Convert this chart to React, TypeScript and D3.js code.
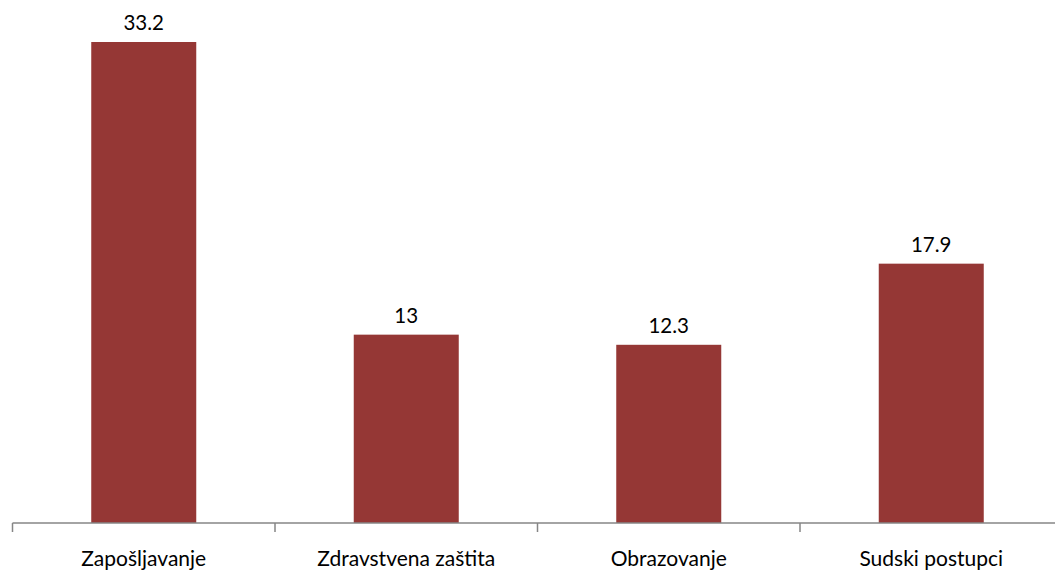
import React from "react";
import * as d3 from "d3";

const categories = ["Zapošljavanje", "Zdravstvena zaštita", "Obrazovanje", "Sudski postupci"];
const values = [33.2, 13, 12.3, 17.9];

const W = 1055;
const H = 572;
const x0 = 12.5;
const x1 = 1062.5;
const baseY = 523;

export default function App() {
  const x = d3.scaleBand<string>().domain(categories).range([x0, x1]).paddingInner(0.6).paddingOuter(0.3);
  const band = d3.scaleBand<string>().domain(categories).range([x0, x1]);
  const y = d3.scaleLinear().domain([0, 33.2]).range([baseY, 42]);
  const font = "Lato, sans-serif";
  return (
    <svg width={W} height={H} style={{ position: "absolute", left: 0, top: 0 }}>
      <rect width={W} height={H} fill="#fff" />
      {categories.map((c, i) => (
        <g key={c}>
          <rect x={x(c)} y={y(values[i])} width={x.bandwidth()} height={baseY - y(values[i])} fill="#953735" />
          <text x={x(c)! + x.bandwidth() / 2} y={y(values[i]) - 12} textAnchor="middle" fontFamily={font} fontSize={20.5} fill="#000">
            {values[i]}
          </text>
          <text x={band(c)! + band.bandwidth() / 2} y={566} textAnchor="middle" fontFamily={font} fontSize={21} fill="#000">
            {c}
          </text>
        </g>
      ))}
      <line x1={x0} x2={x1} y1={baseY} y2={baseY} stroke="#868686" strokeWidth={1.5} />
      {categories.map((c) => (
        <line key={c} x1={band(c)} x2={band(c)} y1={baseY} y2={baseY + 9} stroke="#868686" strokeWidth={1.5} />
      ))}
    </svg>
  );
}
